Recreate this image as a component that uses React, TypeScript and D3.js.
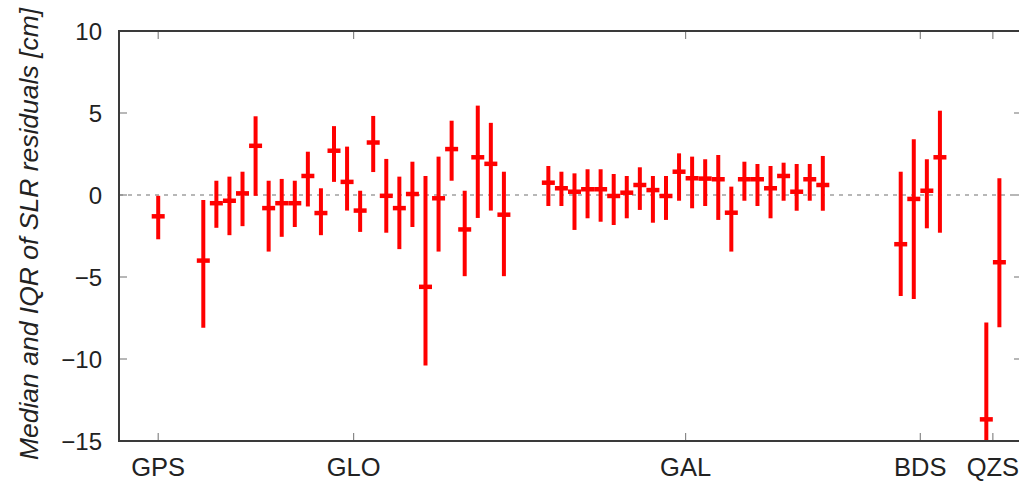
import React from "react";
import * as d3 from "d3";

// ---- data ----
const groups = ["GPS", "GLO", "GAL", "BDS", "QZS"];
// x slot (satellite index position) of the first satellite in each group
const groupStart = [3, 6.45, 32.85, 59.81, 66.36];

const gpsMed = [-1.3];
const gpsLo = [-2.7];
const gpsHi = [-0.05];

const gloMed = [-4.0, -0.5, -0.35, 0.1, 3.0, -0.8, -0.5, -0.5, 1.16, -1.1, 2.7, 0.8, -0.95, 3.2, -0.05, -0.8, 0.06, -5.6, -0.2, 2.8, -2.1, 2.3, 1.9, -1.2];
const gloLo = [-8.1, -2.0, -2.45, -1.9, -0.05, -3.45, -2.55, -1.95, -0.7, -2.45, 0.8, -0.95, -2.25, 1.4, -2.3, -3.3, -1.95, -10.4, -3.45, 0.87, -4.95, -1.4, -0.95, -4.95];
const gloHi = [-0.3, 0.87, 1.12, 1.42, 4.8, 0.87, 0.98, 0.87, 2.64, 0.41, 4.2, 2.95, 0.26, 4.82, 2.2, 1.12, 2.03, 1.16, 2.34, 4.53, 0.26, 5.45, 4.4, 1.42];

const galMed = [0.75, 0.41, 0.2, 0.35, 0.35, -0.06, 0.14, 0.61, 0.3, -0.06, 1.42, 1.02, 1.0, 0.96, -1.08, 0.96, 0.96, 0.41, 1.16, 0.2, 0.96, 0.61];
const galLo = [-0.67, -0.67, -2.13, -1.42, -1.63, -1.83, -1.42, -0.91, -1.69, -1.52, -0.35, -0.81, -0.67, -1.52, -3.45, -0.35, -0.67, -1.42, -0.35, -0.96, -0.35, -0.96];
const galHi = [1.77, 1.42, 1.32, 1.57, 1.57, 1.28, 1.16, 1.69, 1.16, 1.16, 2.54, 2.34, 2.18, 2.44, 0.51, 2.03, 1.89, 1.77, 1.97, 1.89, 1.89, 2.38];

const bdsMed = [-3.0, -0.24, 0.26, 2.3];
const bdsLo = [-6.16, -6.34, -2.03, -2.3];
const bdsHi = [1.42, 3.4, 2.18, 5.14];

const qzsMed = [-13.68, -4.1];
const qzsLo = [-17.0, -8.07];
const qzsHi = [-7.78, 1.02];

const yTicks = [10, 5, 0, -5, -10, -15];

const groupMed = [gpsMed, gloMed, galMed, bdsMed, qzsMed];
const groupLo = [gpsLo, gloLo, galLo, bdsLo, qzsLo];
const groupHi = [gpsHi, gloHi, galHi, bdsHi, qzsHi];

type Pt = { slot: number; med: number; lo: number; hi: number };

export default function App() {
  const W = 1019;
  const H = 482;
  const left = 119, right = 1022, top = 31, bottom = 441;
  const x = d3.scaleLinear().domain([0, 69.09]).range([left, right]);
  const y = d3.scaleLinear().domain([-15, 10]).range([bottom, top]);

  const pts: Pt[] = [];
  const groupCenters: number[] = [];
  groups.forEach((g, gi) => {
    const n = groupMed[gi].length;
    for (let i = 0; i < n; i++) {
      pts.push({ slot: groupStart[gi] + i, med: groupMed[gi][i], lo: groupLo[gi][i], hi: groupHi[gi][i] });
    }
    groupCenters.push(groupStart[gi] + (n - 1) / 2);
  });

  const font = "'Liberation Sans', Arial, Helvetica, sans-serif";
  const red = "#ff0000";
  const axisCol = "#3a3a3a";
  const tickCol = "#888";

  return (
    <svg width={W} height={H} style={{ position: "absolute", left: 0, top: 0, background: "#fff" }}>
      <defs>
        <clipPath id="plotclip">
          <rect x={left} y={top} width={right - left} height={bottom - top} />
        </clipPath>
      </defs>
      <rect x={0} y={0} width={W} height={H} fill="#fff" />

      {/* zero line */}
      <line x1={left} x2={right} y1={y(0)} y2={y(0)} stroke="#a0a0a0" strokeWidth={1.5} strokeDasharray="4,5" />

      {/* y ticks (inward, mirrored) */}
      {yTicks.map((t) => (
        <g key={"yt" + t}>
          <line x1={left} x2={left + 8} y1={y(t)} y2={y(t)} stroke={tickCol} strokeWidth={1.2} />
          <line x1={right - 8} x2={right} y1={y(t)} y2={y(t)} stroke={tickCol} strokeWidth={1.2} />
          <text x={102} y={y(t)} dy="0.36em" textAnchor="end" fontFamily={font} fontSize={24} fill="#222">
            {t < 0 ? "\u2212" + Math.abs(t) : String(t)}
          </text>
        </g>
      ))}

      {/* x ticks */}
      {groups.map((g, gi) => (
        <g key={"xt" + g}>
          <line x1={x(groupCenters[gi])} x2={x(groupCenters[gi])} y1={bottom} y2={bottom - 8} stroke={tickCol} strokeWidth={1.2} />
          <line x1={x(groupCenters[gi])} x2={x(groupCenters[gi])} y1={top} y2={top + 8} stroke={tickCol} strokeWidth={1.2} />
          <text x={x(groupCenters[gi])} y={476} textAnchor="middle" fontFamily={font} fontSize={25.5} fill="#222">
            {g}
          </text>
        </g>
      ))}

      {/* error bars */}
      <g clipPath="url(#plotclip)">
        {pts.map((p, i) => (
          <g key={"p" + i}>
            <line x1={x(p.slot)} x2={x(p.slot)} y1={y(p.lo)} y2={y(p.hi)} stroke={red} strokeWidth={4} />
            <line x1={x(p.slot) - 6.5} x2={x(p.slot) + 6.5} y1={y(p.med)} y2={y(p.med)} stroke={red} strokeWidth={4.5} />
          </g>
        ))}
      </g>

      {/* frame */}
      <rect x={left} y={top} width={right - left} height={bottom - top} fill="none" stroke={axisCol} strokeWidth={2} />

      {/* y title */}
      <text
        transform={`translate(38, 234) rotate(-90)`}
        textAnchor="middle"
        fontFamily={font}
        fontSize={26.5}
        fontStyle="italic"
        fill="#222"
      >
        Median and IQR of SLR residuals [cm]
      </text>
    </svg>
  );
}
